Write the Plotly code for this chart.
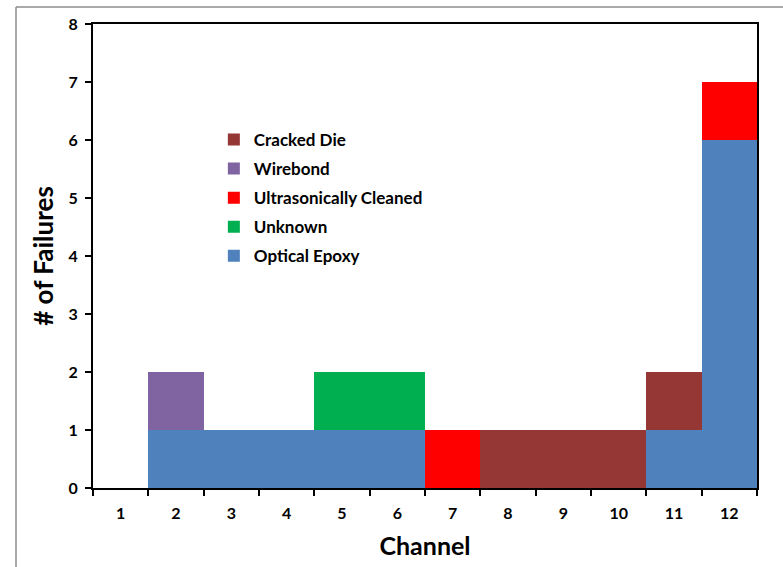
import plotly.graph_objects as go

# Failure counts per channel, by cause
channels = ["1", "2", "3", "4", "5", "6", "7", "8", "9", "10", "11", "12"]
optical_epoxy = [0, 1, 1, 1, 1, 1, 0, 0, 0, 0, 1, 6]
unknown = [0, 0, 0, 0, 1, 1, 0, 0, 0, 0, 0, 0]
ultrasonically_cleaned = [0, 0, 0, 0, 0, 0, 1, 0, 0, 0, 0, 1]
wirebond = [0, 1, 0, 0, 0, 0, 0, 0, 0, 0, 0, 0]
cracked_die = [0, 0, 0, 0, 0, 0, 0, 1, 1, 1, 1, 0]
y_ticks = [0, 1, 2, 3, 4, 5, 6, 7, 8]

# stacked bottom-to-top
series = [
    ("Optical Epoxy", optical_epoxy, "#4F81BD"),
    ("Unknown", unknown, "#00B050"),
    ("Ultrasonically Cleaned", ultrasonically_cleaned, "#FF0000"),
    ("Wirebond", wirebond, "#8064A2"),
    ("Cracked Die", cracked_die, "#953735"),
]

FONT = "Lato, 'Open Sans', Arial, sans-serif"

fig = go.Figure()
for i, (name, vals, color) in enumerate(series):
    fig.add_trace(go.Bar(
        x=channels, y=vals, name=name, legendgroup=name,
        legendrank=1000 - i,  # legend lists the top of the stack first
        marker=dict(color=color, line=dict(width=0)),
    ))

fig.update_layout(
    barmode="stack",
    bargap=0,
    width=783, height=567,
    margin=dict(l=93, r=26, t=24, b=79),
    paper_bgcolor="white",
    plot_bgcolor="white",
    font=dict(family=FONT, color="black"),
    showlegend=True,
    legend=dict(
        traceorder="grouped",
        x=0.182, y=0.789, xanchor="left", yanchor="top",
        font=dict(size=17, family=FONT, weight="bold"),
        bgcolor="rgba(0,0,0,0)",
        itemwidth=30,
        tracegroupgap=4,
    ),
    xaxis=dict(
        type="category",
        showline=True, linecolor="black", linewidth=2, mirror=True,
        ticks="outside", ticklen=6, tickcolor="black", tickwidth=2,
        tickson="boundaries",
        ticklabelstandoff=10,
        tickfont=dict(size=16, family=FONT, weight="bold"),
        title=dict(text="Channel", font=dict(size=25, family=FONT, weight="bold"), standoff=16),
        showgrid=False,
    ),
    yaxis=dict(
        range=[0, 8],
        tickvals=y_ticks,
        showline=True, linecolor="black", linewidth=2, mirror=True,
        ticks="outside", ticklen=6, tickcolor="black", tickwidth=2,
        ticklabelstandoff=4,
        tickfont=dict(size=16, family=FONT, weight="bold"),
        title=dict(text="# of Failures", font=dict(size=26, family=FONT, weight="bold"), standoff=7),
        showgrid=False, zeroline=False,
    ),
    shapes=[
        # outer frame edges
        dict(type="line", xref="paper", yref="paper",
             x0=(16 - 93) / 664, x1=1.2, y0=(488 - 7) / 464, y1=(488 - 7) / 464,
             line=dict(color="#8c8c8c", width=1.5)),
        dict(type="line", xref="paper", yref="paper",
             x0=(16 - 93) / 664, x1=(16 - 93) / 664, y0=(488 - 7) / 464, y1=-0.3,
             line=dict(color="#8c8c8c", width=1.5)),
    ],
)

fig.write_html("out.html")
